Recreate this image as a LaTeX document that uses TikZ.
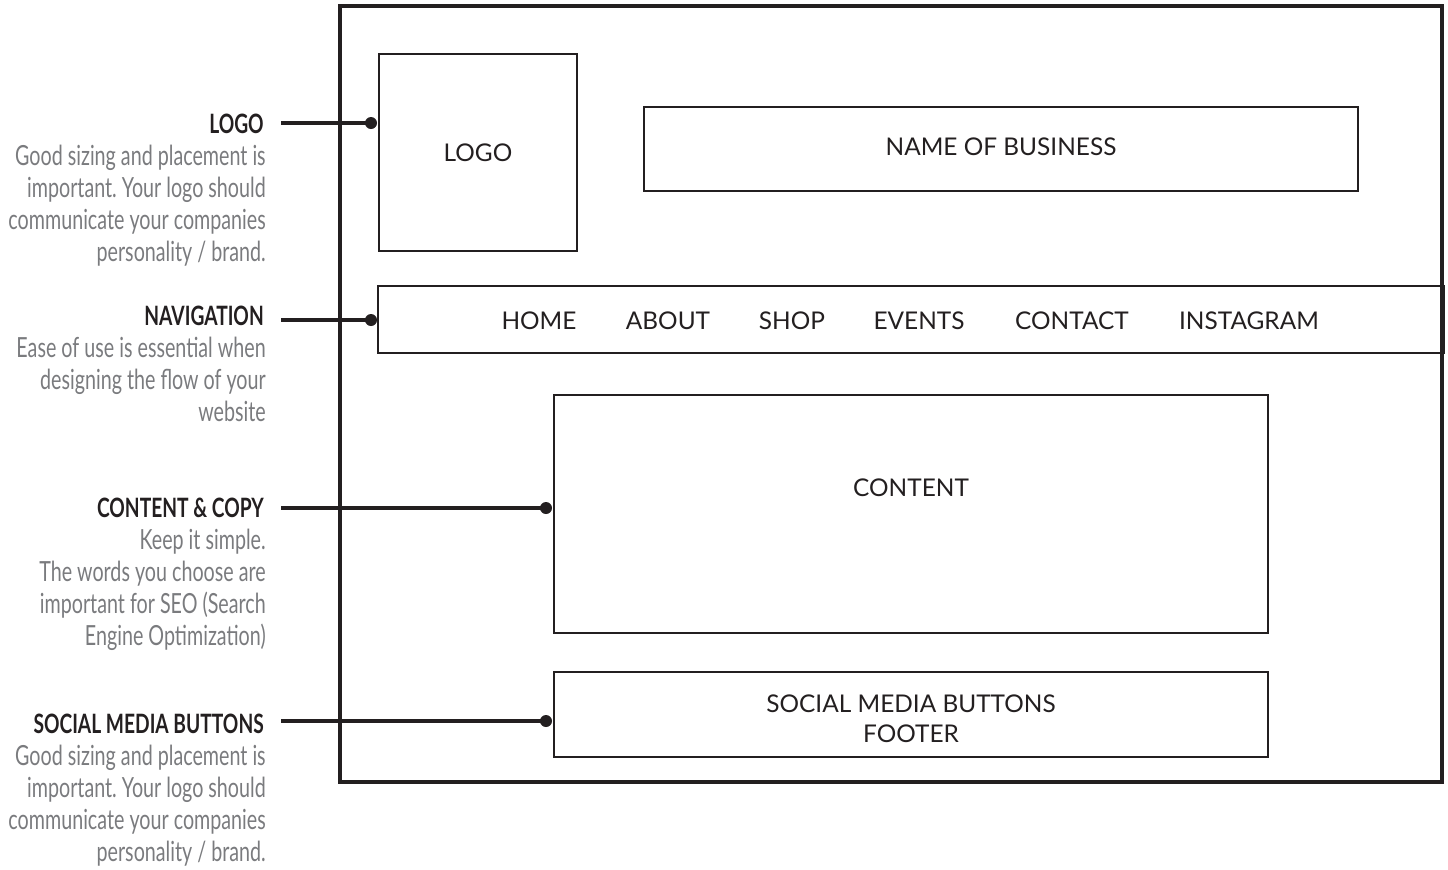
\documentclass[tikz,border=0pt]{standalone}
\usepackage{fontspec}
\setmainfont{Lato}
\newfontfamily\boxfont{Lato}
\newfontfamily\condfont[FakeStretch=0.71]{Lato}
\newfontfamily\condbold[FakeStretch=0.72]{Lato Bold}
\definecolor{ink}{HTML}{231F20}
\definecolor{greytext}{HTML}{7A7B7E}
\frenchspacing
\begin{document}
\begin{tikzpicture}[x=0.75pt,y=-0.75pt,
  frame/.style={draw=ink,line width=2.3pt},
  wbox/.style={draw=ink,line width=1.5pt,inner sep=0pt},
  navitem/.style={font=\boxfont\fontsize{18.3}{22.5}\selectfont,text=ink,inner sep=0pt},
  headlbl/.style={anchor=base east,font=\condbold\fontsize{20}{24}\selectfont,text=ink,inner sep=0pt},
  desclbl/.style={anchor=north east,font=\condfont\fontsize{20.8}{24}\selectfont\frenchspacing,text=greytext,
    align=right,inner sep=0pt},
  conn/.style={draw=ink,line width=3.4pt},
  dotmark/.style={fill=ink}
]
\useasboundingbox (0,0) rectangle (1448,869);
% outer frame
\draw[frame] (340,6) rectangle (1442,782);
% boxes
\node[wbox,minimum width=198*0.75pt,minimum height=197*0.75pt] (logo) at (478,152.5) {};
\node[navitem] (logot) at (478,153) {LOGO};
\node[wbox,minimum width=714*0.75pt,minimum height=84*0.75pt] (name) at (1001,149) {};
\node[navitem] (namet) at (1001,147) {NAME OF BUSINESS};
\node[wbox,minimum width=1066*0.75pt,minimum height=67*0.75pt] (nav) at (911,319.5) {};
\node[navitem] (n1) at (539,321) {HOME};
\node[navitem] (n2) at (668,321) {ABOUT};
\node[navitem] (n3) at (792,321) {SHOP};
\node[navitem] (n4) at (919,321) {EVENTS};
\node[navitem] (n5) at (1072,321) {CONTACT};
\node[navitem] (n6) at (1249,321) {INSTAGRAM};
\node[wbox,minimum width=714*0.75pt,minimum height=238*0.75pt] (content) at (911,514) {};
\node[navitem] (contentt) at (911,488) {CONTENT};
\node[wbox,minimum width=714*0.75pt,minimum height=85*0.75pt] (footer) at (911,714.5) {};
\node[navitem,align=center] (footert) at (911,719) {SOCIAL MEDIA BUTTONS\\FOOTER};
% labels
\node[headlbl] (h1) at (264,133) {LOGO};
\node[desclbl] (d1) at (266,145) {Good sizing and placement is\\important. Your logo should\\communicate your companies\\personality / brand.};
\node[headlbl] (h2) at (264,325) {NAVIGATION};
\node[desclbl] (d2) at (266,337) {Ease of use is essential when\\designing the flow of your\\website};
\node[headlbl] (h3) at (264,517) {CONTENT \& COPY};
\node[desclbl] (d3) at (266,529) {Keep it simple.\\The words you choose are\\important for SEO (Search\\Engine Optimization)};
\node[headlbl] (h4) at (264,733) {SOCIAL MEDIA BUTTONS};
\node[desclbl] (d4) at (266,745) {Good sizing and placement is\\important. Your logo should\\communicate your companies\\personality / brand.};
% connectors
\coordinate (s1) at (281,123);
\coordinate (e1) at (371,123);
\coordinate (s2) at (281,320);
\coordinate (e2) at (371,320);
\coordinate (s3) at (281,508);
\coordinate (e3) at (546,508);
\coordinate (s4) at (281,721);
\coordinate (e4) at (546,721);
\foreach \i in {1,2,3,4}{
  \draw[conn] (s\i) -- (e\i);
  \fill[dotmark] (e\i) circle (6);
}
\end{tikzpicture}
\end{document}
